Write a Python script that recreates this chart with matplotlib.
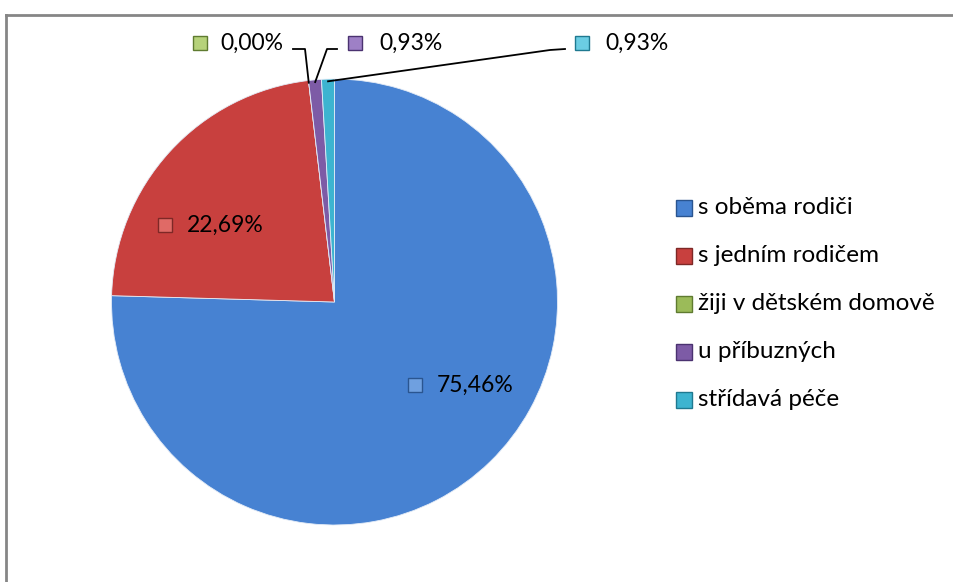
import numpy as np
import matplotlib.pyplot as plt

# data
categories = ['s oběma rodiči', 's jedním rodičem', 'žiji v dětském domově',
              'u příbuzných', 'střídavá péče']
shares = [75.46, 22.69, 0.00, 0.93, 0.93]
share_labels = ['75,46%', '22,69%', '0,00%', '0,93%', '0,93%']
colors = ['#4782D2', '#C8403E', '#9BBB59', '#7D5BA6', '#3DB4D0']
edge_colors = ['#2A5590', '#7E2826', '#5F7B30', '#4A3270', '#1F7990']
tint_colors = ['#6FA0E0', '#E06A66', '#B6D27A', '#9E80C6', '#6BCDE3']

plt.rcParams['font.family'] = ['Lato', 'DejaVu Sans']
FS = 16.5
FS_LEG = 17.5

fig = plt.figure(figsize=(9.54, 5.82), dpi=100)
ax = fig.add_axes([0, 0, 1, 1])

# pixel -> data scale: pie centre at (334.5, 302) px, radius 223 px
S = 223.0
CX, CY = 334.5, 302.0
def px(x, y):
    return (x - CX) / S, (CY - y) / S

wedges, _ = ax.pie(shares, colors=colors, startangle=90, counterclock=False,
                   radius=1.0, center=(0, 0),
                   wedgeprops=dict(edgecolor='#E4ECF7', linewidth=0.6))
ax.set_aspect('auto')
ax.set_xlim(-CX / S, (954 - CX) / S)
ax.set_ylim((CY - 582) / S, CY / S)
ax.axis('off')

# data labels: (marker px, text left px)
label_pos = [((415, 385), 437), ((165, 225), 187), ((200, 43), 220),
             ((355, 43), 379), ((582, 43), 605)]
for i, ((mx, my), tx) in enumerate(label_pos):
    x, y = px(mx, my)
    ax.plot(x, y, marker='s', markersize=10.5, color=tint_colors[i],
            markeredgecolor=edge_colors[i], markeredgewidth=1.0)
    ax.text(px(tx, my)[0], y, share_labels[i], fontsize=FS,
            va='center', ha='left', color='black')

# leader lines for the tiny slices (elbow px, text-side px)
leaders = {2: ((305, 49), (293, 49)), 3: ((327, 49), (337, 49)),
           4: ((550, 50), (565, 49))}
for i, (elbow, end) in leaders.items():
    w = wedges[i]
    th = np.deg2rad((w.theta1 + w.theta2) / 2)
    r = 0.99
    pts = [(r * np.cos(th), r * np.sin(th)), px(*elbow), px(*end)]
    ax.plot([p[0] for p in pts], [p[1] for p in pts], color='black', lw=1.3)

# legend
for i, name in enumerate(categories):
    y = 208 + 48 * i
    x, yy = px(684, y)
    ax.plot(x, yy, marker='s', markersize=11, color=colors[i],
            markeredgecolor=edge_colors[i], markeredgewidth=1.0)
    ax.text(px(698, y)[0], yy, name, fontsize=FS_LEG, va='center', ha='left')

# chart frame (cropped on right and bottom)
fig.add_artist(plt.Line2D([6.5 / 954, 1.0], [1 - 14.5 / 582] * 2,
                          transform=fig.transFigure, color='#868686', lw=2))
fig.add_artist(plt.Line2D([6.5 / 954] * 2, [0, 1 - 14.5 / 582],
                          transform=fig.transFigure, color='#868686', lw=2))

fig.savefig('out.png', dpi=100)
